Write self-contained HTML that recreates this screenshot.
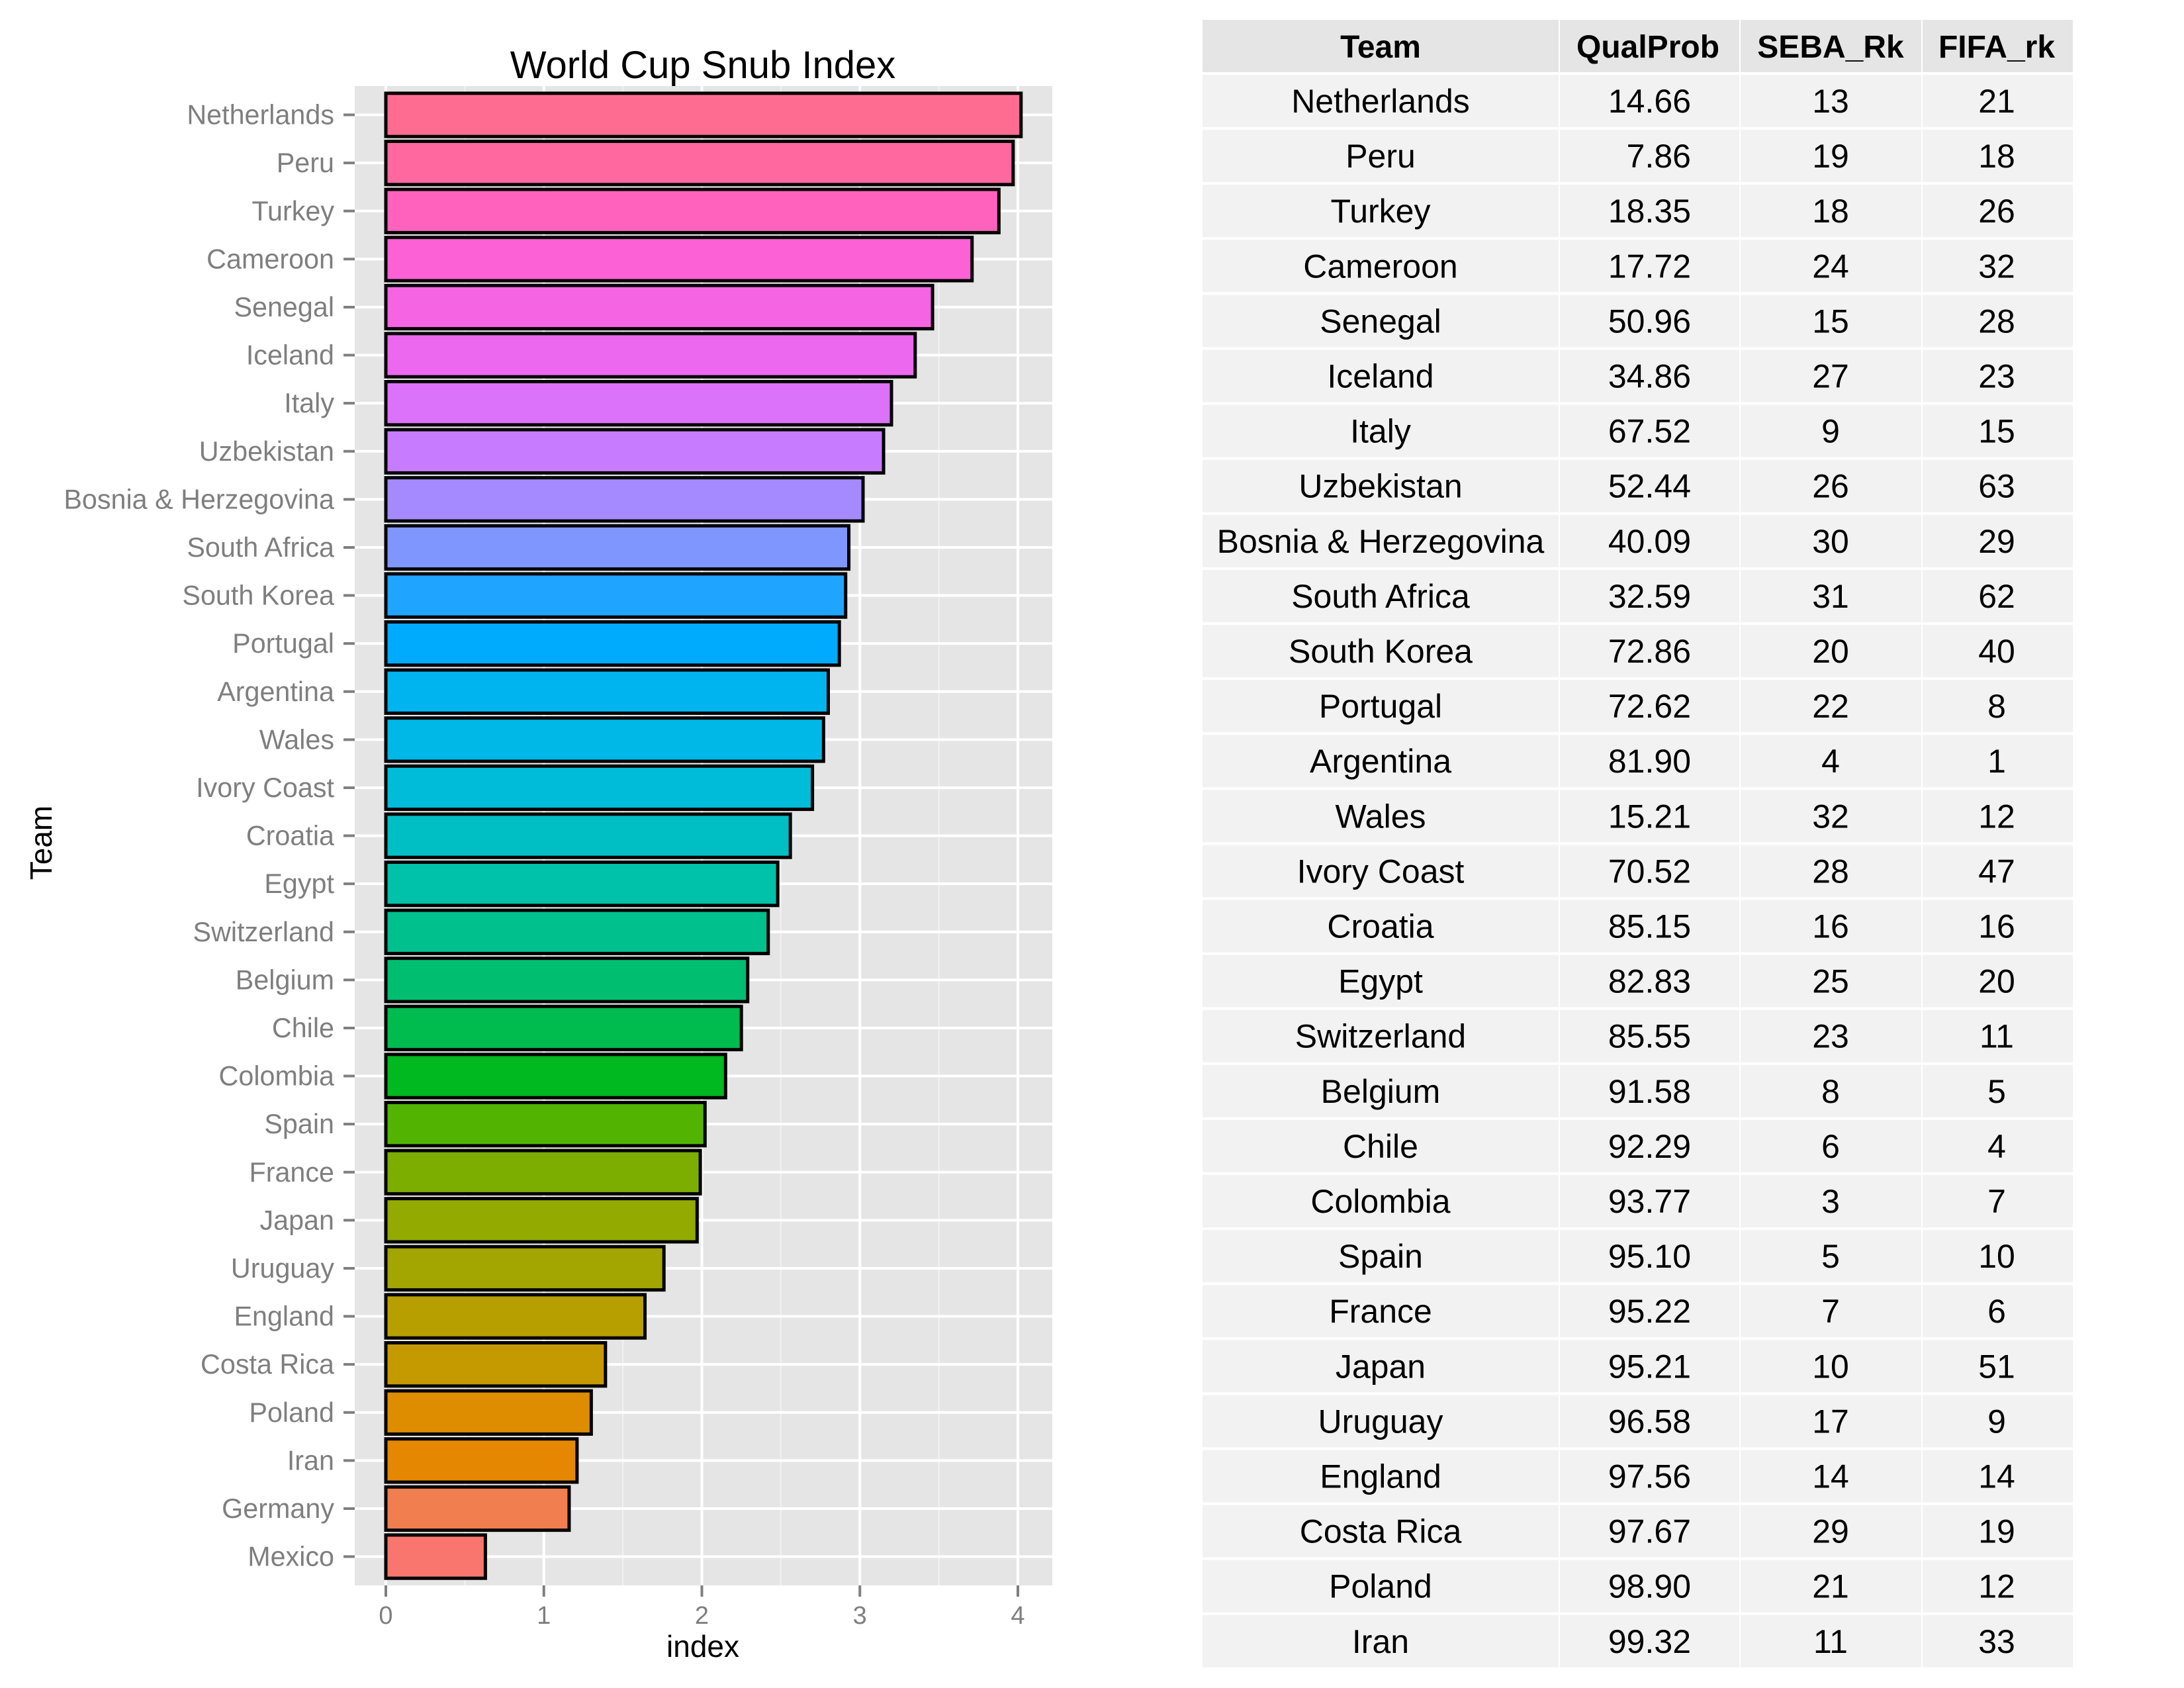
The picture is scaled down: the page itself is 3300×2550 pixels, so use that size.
<!DOCTYPE html>
<html><head><meta charset="utf-8"><style>
html,body{margin:0;padding:0;background:#fff;}
svg{display:block;}
</style></head><body>
<svg width="3300" height="2550" viewBox="0 0 3300 2550" xmlns="http://www.w3.org/2000/svg" font-family="Liberation Sans, Arial, sans-serif">
<rect width="3300" height="2550" fill="#fff"/>
<g id="plot"></g>
<g id="tbl"></g>
<script><![CDATA[
var NS="http://www.w3.org/2000/svg";
function el(p,t,a,txt){var e=document.createElementNS(NS,t);for(var k in a)e.setAttribute(k,a[k]);if(txt!=null)e.textContent=txt;p.appendChild(e);return e;}
var teams=["Netherlands","Peru","Turkey","Cameroon","Senegal","Iceland","Italy","Uzbekistan","Bosnia & Herzegovina","South Africa","South Korea","Portugal","Argentina","Wales","Ivory Coast","Croatia","Egypt","Switzerland","Belgium","Chile","Colombia","Spain","France","Japan","Uruguay","England","Costa Rica","Poland","Iran","Germany","Mexico"];
var vals=[4.02,3.97,3.88,3.71,3.46,3.35,3.20,3.15,3.02,2.93,2.91,2.87,2.80,2.77,2.70,2.56,2.48,2.42,2.29,2.25,2.15,2.02,1.99,1.97,1.76,1.64,1.39,1.30,1.21,1.16,0.63];
var cols=["#FF6C91","#FF689F","#FF62BC","#FC61D5","#F564E3","#EC69EF","#DC71FA","#C77CFF","#A58AFF","#7F96FF","#1FA4FF","#00ABFD","#00B4F0","#00B8E7","#00BCD8","#00BFC4","#00C1A9","#00C08E","#00BE70","#00BB4E","#00B81F","#53B400","#7CAE00","#93AA00","#A3A500","#B79F00","#C49A00","#DE8C00","#E58700","#F17E4F","#F8766D"];
var g=document.getElementById("plot");
var PL=536,PR=1590,PT=130,PB=2395,X0=583,U=238.75,P=72.6;
el(g,"rect",{x:PL,y:PT,width:PR-PL,height:PB-PT,fill:"#E5E5E5"});
for(var i=0;i<5;i++){var xm=X0+(i+0.5)*U;if(xm<PR)el(g,"line",{x1:xm,x2:xm,y1:PT,y2:PB,stroke:"#F2F2F2","stroke-width":2});}
for(var i=0;i<=4;i++){var x=X0+i*U;el(g,"line",{x1:x,x2:x,y1:PT,y2:PB,stroke:"#fff","stroke-width":4});}
for(var j=0;j<31;j++){var cy=PT+(0.6+j)*P;el(g,"line",{x1:PL,x2:PR,y1:cy,y2:cy,stroke:"#fff","stroke-width":4});}
for(var j=0;j<31;j++){var cy=PT+(0.6+j)*P;var h=P*0.9;
el(g,"rect",{x:X0,y:cy-h/2,width:vals[j]*U,height:h,fill:cols[j],stroke:"#000","stroke-width":5});
el(g,"line",{x1:519,x2:536,y1:cy,y2:cy,stroke:"#7F7F7F","stroke-width":4});
el(g,"text",{x:505,y:cy+14,"text-anchor":"end","font-size":41.3,fill:"#7F7F7F"},teams[j]);}
for(var i=0;i<=4;i++){var x=X0+i*U;el(g,"line",{x1:x,x2:x,y1:PB,y2:PB+17,stroke:"#7F7F7F","stroke-width":4});
el(g,"text",{x:x,y:2453,"text-anchor":"middle","font-size":38,fill:"#7F7F7F"},String(i));}
el(g,"text",{x:1062,y:118,"text-anchor":"middle","font-size":58,fill:"#000"},"World Cup Snub Index");
el(g,"text",{x:1062,y:2503,"text-anchor":"middle","font-size":46,fill:"#000"},"index");
el(g,"text",{x:0,y:0,"text-anchor":"middle","font-size":46,fill:"#000",transform:"translate(78,1273) rotate(-90)"},"Team");
var t=document.getElementById("tbl");
var cx=[1817,2355,2628,2903,3132];
var rows=[["Netherlands","14.66","13","21"],["Peru","7.86","19","18"],["Turkey","18.35","18","26"],["Cameroon","17.72","24","32"],["Senegal","50.96","15","28"],["Iceland","34.86","27","23"],["Italy","67.52","9","15"],["Uzbekistan","52.44","26","63"],["Bosnia & Herzegovina","40.09","30","29"],["South Africa","32.59","31","62"],["South Korea","72.86","20","40"],["Portugal","72.62","22","8"],["Argentina","81.90","4","1"],["Wales","15.21","32","12"],["Ivory Coast","70.52","28","47"],["Croatia","85.15","16","16"],["Egypt","82.83","25","20"],["Switzerland","85.55","23","11"],["Belgium","91.58","8","5"],["Chile","92.29","6","4"],["Colombia","93.77","3","7"],["Spain","95.10","5","10"],["France","95.22","7","6"],["Japan","95.21","10","51"],["Uruguay","96.58","17","9"],["England","97.56","14","14"],["Costa Rica","97.67","29","19"],["Poland","98.90","21","12"],["Iran","99.32","11","33"]];
function cells(y,h,fill){for(var c=0;c<4;c++)el(t,"rect",{x:cx[c]+(c?2:0),y:y,width:cx[c+1]-cx[c]-(c?2:0),height:h,fill:fill});}
cells(30,79,"#E5E5E5");
var hd=["Team","QualProb","SEBA_Rk","FIFA_rk"],hx=[2086,2490,2766,3017];
for(var c=0;c<4;c++)el(t,"text",{x:hx[c],y:87,"text-anchor":"middle","font-size":48,"font-weight":"bold",fill:"#000"},hd[c]);
for(var r=0;r<29;r++){var y=113+r*83.1;cells(y,79,"#F2F2F2");var by=y+57;
el(t,"text",{x:2086,y:by,"text-anchor":"middle","font-size":50,fill:"#000"},rows[r][0]);
el(t,"text",{x:2555,y:by,"text-anchor":"end","font-size":50,fill:"#000"},rows[r][1]);
el(t,"text",{x:2766,y:by,"text-anchor":"middle","font-size":50,fill:"#000"},rows[r][2]);
el(t,"text",{x:3017,y:by,"text-anchor":"middle","font-size":50,fill:"#000"},rows[r][3]);}
]]></script>
</svg>
</body></html>
